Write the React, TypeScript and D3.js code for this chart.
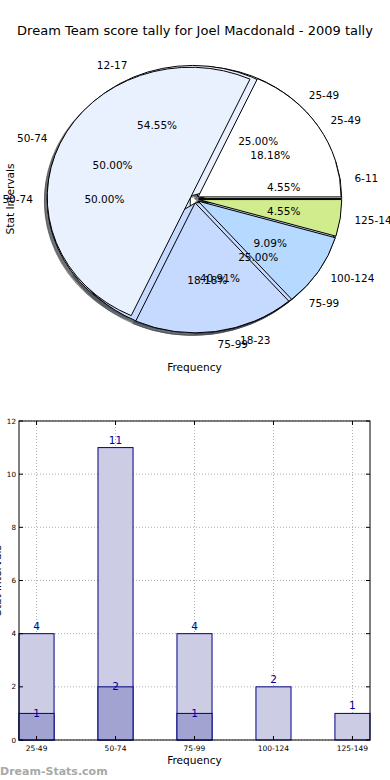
import * as d3 from "d3"

const title = "Dream Team score tally for Joel Macdonald - 2009 tally"

// score intervals (pie A and the bars)
const intervals = ["25-49", "50-74", "75-99", "100-124", "125-149"]
const totals = [4, 11, 4, 2, 1]
const highlighted = [1, 2, 1, 0, 0]

// second pie: highlighted tally
const highIntervals = ["25-49", "50-74", "75-99"]
const highValues = [1, 2, 1]

// third pie: stat intervals
const statIntervals = ["6-11", "12-17", "18-23"]
const statValues = [1, 12, 9]

const sliceColors = ["#ffffff", "#eaf1fe", "#c6d9fe", "#b5d9ff", "#d0ec8c"]
const yTicks = [0, 2, 4, 6, 8, 10, 12]

const W = 390
const H = 780
const font = "DejaVu Sans, sans-serif"

// pie geometry (axes are not equal aspect, so the pie is an ellipse)
const cx = 194.5
const cy = 199
const rx = 143
const ry = 130
const explode = 0.03

function layout(labels: string[], values: number[]) {
    const total = d3.sum(values)
    const arcs = d3
        .pie<number>()
        .sort(null)
        .startAngle(Math.PI / 2)
        .endAngle(Math.PI / 2 - 2 * Math.PI)(values)
    return arcs.map((a, i) => ({
        label: labels[i],
        color: sliceColors[i],
        arc: a,
        mid: Math.PI / 2 - (a.startAngle + a.endAngle) / 2,
        pct: (values[i] / total) * 100,
    }))
}

const pies = [
    layout(highIntervals, highValues),
    layout(statIntervals, statValues),
    layout(intervals, totals),
]

const arcGen = d3.arc<d3.PieArcDatum<number>>().innerRadius(0).outerRadius(rx)

function shade(c: string) {
    const k = d3.rgb(c)
    return d3.rgb(k.r * 0.3, k.g * 0.3, k.b * 0.3).toString()
}

function PieChart() {
    const sy = ry / rx
    return (
        <g>
            <g transform={`translate(${cx},${cy}) scale(1,${sy})`}>
                {pies.map((p, pi) =>
                    p.map((s, i) => (
                        <path
                            key={`sh${pi}-${i}`}
                            d={arcGen(s.arc) ?? ""}
                            transform={`translate(${explode * rx * Math.cos(s.mid) - 0.02 * rx},${-explode * rx * Math.sin(s.mid) + 0.02 * rx})`}
                            fill={shade(s.color)}
                            fillOpacity={0.5}
                            stroke={shade(s.color)}
                            strokeOpacity={0.5}
                            vectorEffect="non-scaling-stroke"
                        />
                    ))
                )}
                {pies.map((p, pi) =>
                    p.map((s, i) => (
                        <path
                            key={`w${pi}-${i}`}
                            d={arcGen(s.arc) ?? ""}
                            transform={`translate(${explode * rx * Math.cos(s.mid)},${-explode * rx * Math.sin(s.mid)})`}
                            fill={s.color}
                            stroke="#000"
                            strokeWidth={1}
                            strokeLinejoin="round"
                            vectorEffect="non-scaling-stroke"
                        />
                    ))
                )}
            </g>
            {pies.map((p, pi) =>
                p.map((s, i) => {
                    const c = Math.cos(s.mid)
                    const sn = Math.sin(s.mid)
                    return (
                        <g key={`t${pi}-${i}`} fontFamily={font} fontSize={10.5} fill="#000">
                            <text
                                x={cx + (explode + 1.1) * rx * c}
                                y={cy - (explode + 1.1) * ry * sn}
                                textAnchor={c > 0 ? "start" : "end"}
                                dominantBaseline="central"
                            >
                                {s.label}
                            </text>
                            <text
                                x={cx + (explode + 0.6) * rx * c}
                                y={cy - (explode + 0.6) * ry * sn}
                                textAnchor="middle"
                                dominantBaseline="central"
                            >
                                {s.pct.toFixed(2)}%
                            </text>
                        </g>
                    )
                })
            )}
            <text x={194.5} y={371} textAnchor="middle" fontFamily={font} fontSize={10.6}>
                Frequency
            </text>
            <text
                transform={`translate(14,${cy}) rotate(-90)`}
                textAnchor="middle"
                fontFamily={font}
                fontSize={10.6}
            >
                Stat Intervals
            </text>
        </g>
    )
}

function BarChart() {
    const left = 19
    const right = 370
    const top = 421
    const bottom = 740
    const x = d3.scaleBand<string>().domain(intervals).range([left, right]).paddingInner(0.556).paddingOuter(0)
    const y = d3.scaleLinear().domain([0, 12]).range([bottom, top])
    const navy = "#000080"
    return (
        <g>
            {yTicks.map((t) => (
                <line key={`gy${t}`} x1={left} x2={right} y1={y(t)} y2={y(t)} stroke="#b0b0b0" strokeDasharray="1,2" />
            ))}
            {intervals.map((c) => (
                <line
                    key={`gx${c}`}
                    x1={x(c)! + x.bandwidth() / 2}
                    x2={x(c)! + x.bandwidth() / 2}
                    y1={top}
                    y2={bottom}
                    stroke="#b0b0b0"
                    strokeDasharray="1,2"
                />
            ))}
            {intervals.map((c, i) => (
                <rect
                    key={`b${c}`}
                    x={x(c)}
                    y={y(totals[i])}
                    width={x.bandwidth()}
                    height={bottom - y(totals[i])}
                    fill="#cccce5"
                    stroke={navy}
                    strokeWidth={1}
                />
            ))}
            {intervals.map((c, i) => (
                <rect
                    key={`h${c}`}
                    x={x(c)}
                    y={y(highlighted[i])}
                    width={x.bandwidth()}
                    height={bottom - y(highlighted[i])}
                    fill="#a3a3d1"
                    stroke={navy}
                    strokeWidth={1}
                />
            ))}
            {intervals.map((c, i) => (
                <text
                    key={`vt${c}`}
                    x={x(c)! + x.bandwidth() / 2}
                    y={y(totals[i]) - 4}
                    textAnchor="middle"
                    fontFamily={font}
                    fontSize={10.5}
                    fill="#0000a0"
                >
                    {totals[i]}
                </text>
            ))}
            {intervals.map((c, i) =>
                highlighted[i] > 0 ? (
                    <text
                        key={`vh${c}`}
                        x={x(c)! + x.bandwidth() / 2}
                        y={y(highlighted[i]) + 3.5}
                        textAnchor="middle"
                        fontFamily={font}
                        fontSize={10.5}
                        fill="#0000a0"
                    >
                        {highlighted[i]}
                    </text>
                ) : null
            )}
            <rect x={left} y={top} width={right - left} height={bottom - top} fill="none" stroke="#000" />
            {yTicks.map((t) => (
                <g key={`ty${t}`}>
                    <line x1={left} x2={left + 4} y1={y(t)} y2={y(t)} stroke="#000" />
                    <line x1={right} x2={right - 4} y1={y(t)} y2={y(t)} stroke="#000" />
                    <text
                        x={left - 3}
                        y={y(t)}
                        textAnchor="end"
                        dominantBaseline="central"
                        fontFamily={font}
                        fontSize={7.2}
                    >
                        {t}
                    </text>
                </g>
            ))}
            {intervals.map((c) => {
                const cxb = x(c)! + x.bandwidth() / 2
                return (
                    <g key={`tx${c}`}>
                        <line x1={cxb} x2={cxb} y1={bottom} y2={bottom - 4} stroke="#000" />
                        <line x1={cxb} x2={cxb} y1={top} y2={top + 4} stroke="#000" />
                        <text x={cxb} y={751} textAnchor="middle" fontFamily={font} fontSize={7.5}>
                            {c}
                        </text>
                    </g>
                )
            })}
            <text x={194.5} y={764} textAnchor="middle" fontFamily={font} fontSize={10.6}>
                Frequency
            </text>
            <text
                transform={`translate(1,${(top + bottom) / 2}) rotate(-90)`}
                textAnchor="middle"
                fontFamily={font}
                fontSize={10.6}
            >
                Stat Intervals
            </text>
        </g>
    )
}

export default function App() {
    return (
        <svg
            width={W}
            height={H}
            viewBox={`0 0 ${W} ${H}`}
            style={{ position: "absolute", left: 0, top: 0, background: "#fff", overflow: "hidden" }}
        >
            <rect width={W} height={H} fill="#fff" />
            <text x={195} y={35} textAnchor="middle" fontFamily={font} fontSize={13}>
                {title}
            </text>
            <PieChart />
            <BarChart />
            <text x={0} y={775} fontFamily={font} fontSize={11} fontWeight="bold" fill="#a8a8a8">
                Dream-Stats.com
            </text>
        </svg>
    )
}
